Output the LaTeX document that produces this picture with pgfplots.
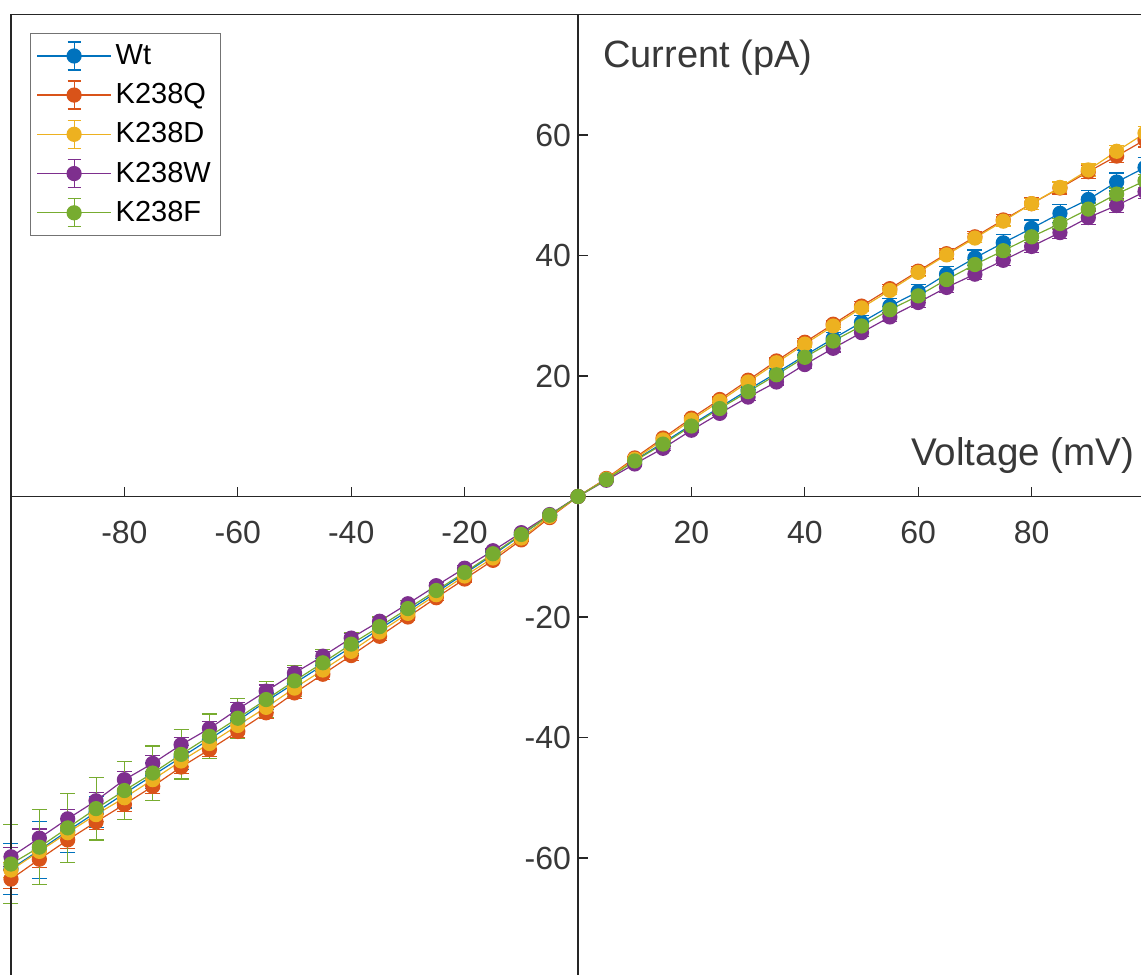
\documentclass[border=0pt]{standalone}
\usepackage{fontspec}
\setmainfont{Liberation Sans}
\usepackage{pgfplots}
\usepackage{pgfplotstable}
\pgfplotsset{compat=1.18}
\definecolor{c1}{RGB}{0,114,189}
\definecolor{c2}{RGB}{217,83,25}
\definecolor{c3}{RGB}{237,177,32}
\definecolor{c4}{RGB}{126,47,142}
\definecolor{c5}{RGB}{119,172,48}
\definecolor{axgray}{RGB}{38,38,38}

% x = voltage (mV), y = current (pA), e = error
\pgfplotstableread{
x y e
-100 -61.8 4.2
-95 -58.7 4.7
-90 -55.5 3.6
-85 -52.4 2.6
-80 -49.3 2.4
-75 -46.3 2.2
-70 -43.3 2.0
-65 -40.3 1.8
-60 -37.2 1.6
-55 -34.0 1.4
-50 -31.0 1.2
-45 -28.0 1.1
-40 -25.0 1.0
-35 -22.0 0.9
-30 -19.0 0.8
-25 -15.9 0.7
-20 -12.8 0.6
-15 -9.7 0.5
-10 -6.4 0.4
-5 -3.1 0.3
0 0 0
5 2.9 0.2
10 6.0 0.3
15 8.9 0.4
20 11.9 0.5
25 14.8 0.6
30 17.7 0.7
35 20.5 0.8
40 23.4 0.9
45 26.2 1.0
50 28.9 1.1
55 31.6 1.2
60 34.0 1.2
65 36.9 1.3
70 39.6 1.3
75 42.1 1.4
80 44.5 1.4
85 47.0 1.5
90 49.3 1.5
95 52.2 1.5
100 54.6 1.6
}\wt

\pgfplotstableread{
x y e
-100 -63.5 1.5
-95 -60.2 1.4
-90 -57.0 1.4
-85 -54.0 1.3
-80 -51.1 1.2
-75 -48.1 1.2
-70 -44.9 1.1
-65 -42.0 1.1
-60 -39.0 1.0
-55 -35.9 1.0
-50 -32.6 0.9
-45 -29.5 0.9
-40 -26.4 0.8
-35 -23.2 0.7
-30 -20.0 0.6
-25 -16.8 0.5
-20 -13.7 0.5
-15 -10.6 0.4
-10 -7.2 0.3
-5 -3.5 0.2
0 0 0
5 3.0 0.2
10 6.4 0.3
15 9.7 0.3
20 13.0 0.4
25 16.1 0.4
30 19.3 0.5
35 22.5 0.5
40 25.6 0.6
45 28.6 0.6
50 31.6 0.7
55 34.5 0.7
60 37.4 0.8
65 40.3 0.8
70 43.1 0.9
75 45.9 0.9
80 48.6 1.0
85 51.2 1.0
90 53.9 1.1
95 56.5 1.1
100 59.2 1.2
}\kq

\pgfplotstableread{
x y e
-100 -62.0 1.2
-95 -58.9 1.2
-90 -55.8 1.1
-85 -52.8 1.1
-80 -50.0 1.0
-75 -47.0 1.0
-70 -43.9 0.9
-65 -41.0 0.9
-60 -38.0 0.8
-55 -35.0 0.8
-50 -31.8 0.7
-45 -28.8 0.7
-40 -25.7 0.6
-35 -22.5 0.6
-30 -19.4 0.5
-25 -16.3 0.5
-20 -13.2 0.4
-15 -10.2 0.3
-10 -6.9 0.3
-5 -3.3 0.2
0 0 0
5 2.9 0.2
10 6.2 0.3
15 9.4 0.3
20 12.7 0.4
25 15.8 0.4
30 19.0 0.5
35 22.2 0.5
40 25.3 0.5
45 28.3 0.6
50 31.3 0.6
55 34.2 0.7
60 37.2 0.7
65 40.1 0.8
70 42.9 0.8
75 45.7 0.8
80 48.6 0.9
85 51.3 0.9
90 54.2 1.0
95 57.3 1.0
100 60.3 1.1
}\kd

\pgfplotstableread{
x y e
-100 -59.8 1.6
-95 -56.7 1.5
-90 -53.5 1.5
-85 -50.5 1.4
-80 -47.0 1.4
-75 -44.3 1.3
-70 -41.2 1.2
-65 -38.5 1.2
-60 -35.3 1.1
-55 -32.3 1.0
-50 -29.3 0.9
-45 -26.5 0.8
-40 -23.5 0.7
-35 -20.7 0.6
-30 -17.8 0.6
-25 -14.8 0.5
-20 -11.9 0.4
-15 -9.0 0.3
-10 -6.0 0.2
-5 -3.0 0.2
0 0 0
5 2.7 0.2
10 5.4 0.3
15 8.0 0.3
20 11.0 0.4
25 13.8 0.4
30 16.5 0.5
35 19.0 0.5
40 21.9 0.6
45 24.6 0.6
50 27.2 0.7
55 29.8 0.7
60 32.2 0.8
65 34.7 0.8
70 36.9 0.9
75 39.2 0.9
80 41.5 1.0
85 43.8 1.0
90 46.3 1.1
95 48.3 1.1
100 50.6 1.2
}\kw

\pgfplotstableread{
x y e
-100 -61.0 6.6
-95 -58.2 6.2
-90 -55.0 5.7
-85 -51.8 5.2
-80 -48.8 4.8
-75 -45.9 4.5
-70 -42.8 4.1
-65 -39.8 3.7
-60 -36.8 3.3
-55 -33.7 3.0
-50 -30.6 2.6
-45 -27.6 2.2
-40 -24.5 1.9
-35 -21.6 1.6
-30 -18.6 1.3
-25 -15.6 1.0
-20 -12.6 0.8
-15 -9.5 0.6
-10 -6.3 0.4
-5 -3.1 0.2
0 0 0
5 2.8 0.1
10 5.9 0.2
15 8.7 0.2
20 11.7 0.3
25 14.6 0.3
30 17.4 0.4
35 20.2 0.4
40 23.1 0.5
45 25.8 0.5
50 28.3 0.6
55 31.0 0.6
60 33.3 0.7
65 36.0 0.7
70 38.5 0.8
75 40.8 0.8
80 43.1 0.9
85 45.3 0.9
90 47.7 1.0
95 50.2 1.0
100 52.4 1.1
}\kf

\begin{document}
\begin{tikzpicture}
\begin{axis}[
    scale only axis, width=567pt, height=482pt,
    xmin=-100, xmax=100, ymin=-80, ymax=80,
    axis lines=center,
    axis line style={axgray, line width=0.6pt, -},
    xtick={-80,-60,-40,-20,20,40,60,80},
    ytick={-60,-40,-20,20,40,60},
    major tick length=0pt,
    ticklabel style={font=\fontsize{16}{19}\selectfont, text=black!78},
    xticklabel style={yshift=-9pt},
    /pgf/number format/assume math mode=true,
    xlabel={Voltage (mV)}, ylabel={Current (pA)},
    every axis x label/.style={at={(rel axis cs:0.991,0.542)}, anchor=east, inner sep=0pt,
        font=\fontsize{19.3}{23}\selectfont, text=black!78},
    every axis y label/.style={at={(rel axis cs:0.522,0.955)}, anchor=west, inner sep=0pt,
        font=\fontsize{19}{23}\selectfont, text=black!78},
    clip=false,
    legend cell align=left,
    legend style={at={(rel axis cs:0,1)}, anchor=north west, xshift=9.5pt, yshift=-9.25pt,
        draw=black!55, line width=0.5pt, font=\fontsize{14.5}{17}\selectfont,
        row sep=4pt, inner xsep=3pt, inner ysep=3.5pt},
    legend image code/.code={
        \draw[#1, mark=none] (0pt,0pt) -- (37pt,0pt);
        \draw[#1, mark=none, solid] (18.5pt,-7pt) -- (18.5pt,7pt)
            (15.2pt,-7pt) -- (21.8pt,-7pt) (15.2pt,7pt) -- (21.8pt,7pt);
        \draw[#1, only marks] plot coordinates {(18.5pt,0pt)};
    },
    every axis plot/.append style={line width=0.6pt, mark=*, mark size=3.5pt,
        /pgfplots/error bars/y dir=both, /pgfplots/error bars/y explicit,
        /pgfplots/error bars/error mark options={rotate=90, mark size=3.75pt, line width=0.6pt}},
]
\addplot[c1] table[x=x, y=y, y error=e] {\wt};
\addlegendentry{Wt}
\addplot[c2] table[x=x, y=y, y error=e] {\kq};
\addlegendentry{K238Q}
\addplot[c3] table[x=x, y=y, y error=e] {\kd};
\addlegendentry{K238D}
\addplot[c4] table[x=x, y=y, y error=e] {\kw};
\addlegendentry{K238W}
\addplot[c5] table[x=x, y=y, y error=e] {\kf};
\addlegendentry{K238F}
% frame and tick marks (ticks point up / right as in the original)
\draw[axgray, line width=0.6pt] (rel axis cs:0,0) rectangle (rel axis cs:1,1);
\pgfplotsinvokeforeach{-80,-60,-40,-20,20,40,60,80}{
    \draw[axgray, line width=0.6pt] (axis cs:#1,0) -- ++(0pt,5pt);
}
\pgfplotsinvokeforeach{-60,-40,-20,20,40,60}{
    \draw[axgray, line width=0.6pt] (axis cs:0,#1) -- ++(5pt,0pt);
}
\coordinate (bl) at (rel axis cs:0,0);
\coordinate (tr) at (rel axis cs:1,1);
\end{axis}
\pgfresetboundingbox
\useasboundingbox ([xshift=-5.5pt,yshift=2.25pt]bl) rectangle ([xshift=-2pt,yshift=7.25pt]tr);
\end{tikzpicture}
\end{document}
